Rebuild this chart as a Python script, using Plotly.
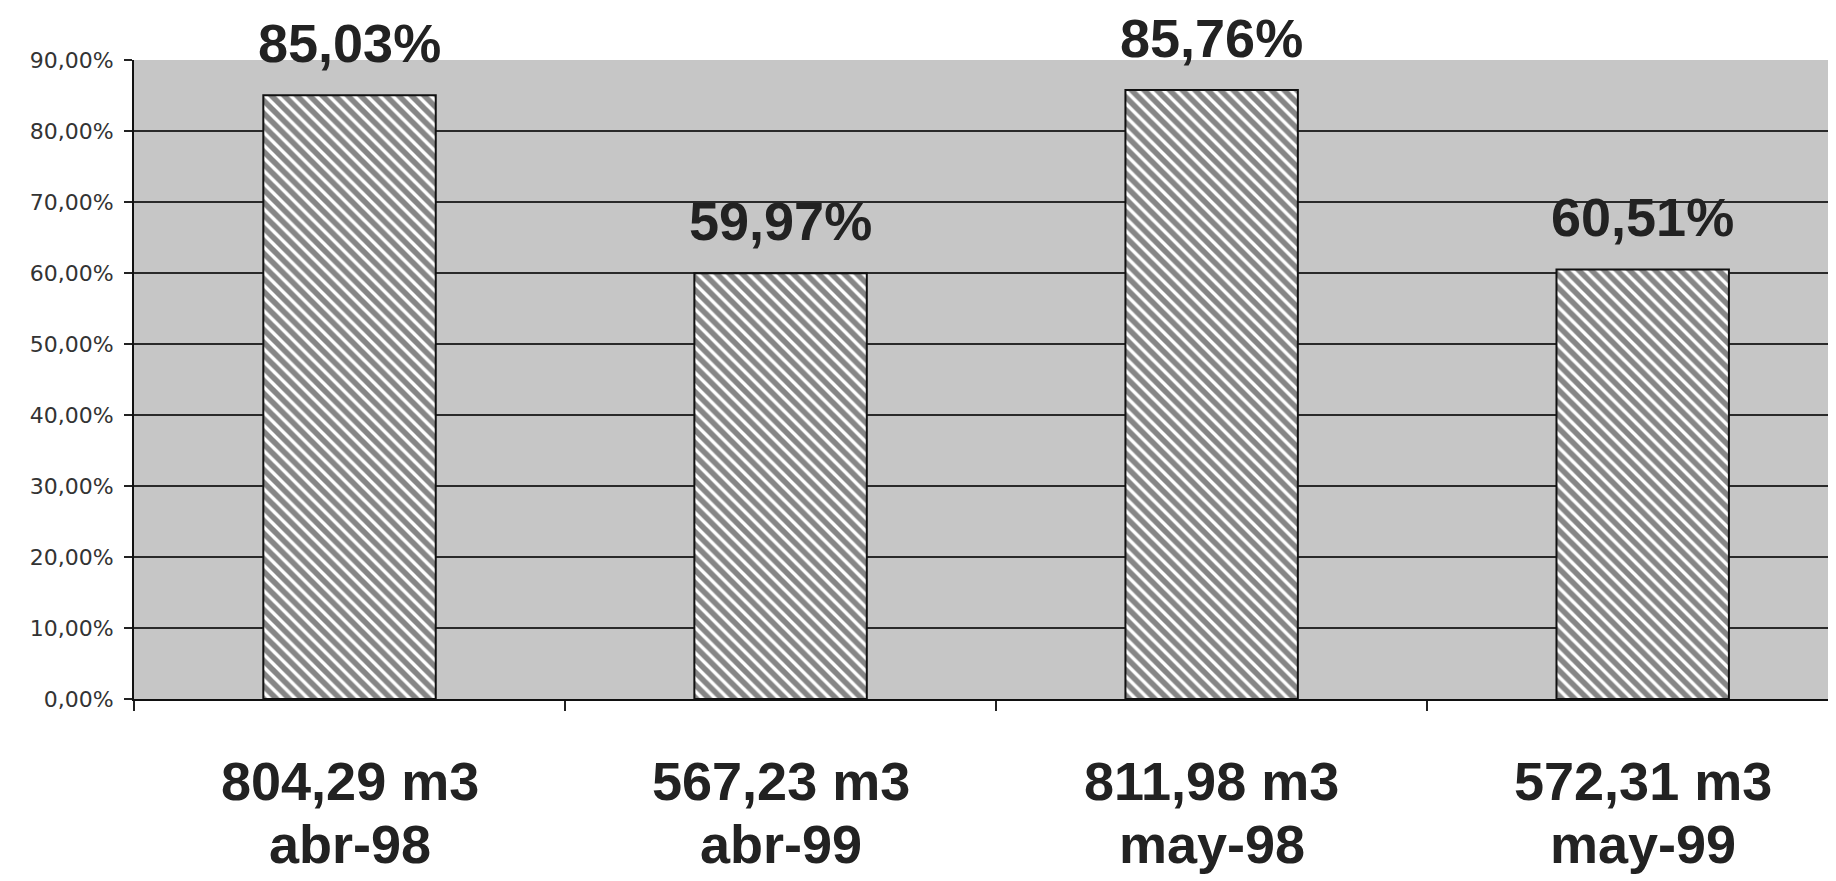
import plotly.graph_objects as go

# ---- data ----
volumes = ["804,29 m3", "567,23 m3", "811,98 m3", "572,31 m3"]
months = ["abr-98", "abr-99", "may-98", "may-99"]
values = [0.8503, 0.5997, 0.8576, 0.6051]
value_labels = ["85,03%", "59,97%", "85,76%", "60,51%"]
tick_vals = [0.0, 0.1, 0.2, 0.3, 0.4, 0.5, 0.6, 0.7, 0.8, 0.9]
tick_labels = ["0,00%", "10,00%", "20,00%", "30,00%", "40,00%",
               "50,00%", "60,00%", "70,00%", "80,00%", "90,00%"]

TXT = dict(family="Liberation Sans, Arial", size=54, color="#222222")

fig = go.Figure()
fig.add_trace(go.Bar(
    x=months,
    y=values,
    width=0.4,
    marker=dict(
        color="white",
        line=dict(color="#111111", width=2),
        pattern=dict(shape="\\", size=9, solidity=0.62,
                     fgcolor="#0d0d0d", bgcolor="white"),
    ),
    showlegend=False,
    hoverinfo="skip",
))

# grid lines (below bars), omitting the top boundary
shapes = []
for v in tick_vals[1:-1]:
    shapes.append(dict(type="line", xref="paper", yref="y", x0=0, x1=1,
                       y0=v, y1=v, layer="below",
                       line=dict(color="#2a2a2a", width=2)))

annotations = []
for m, v, lab in zip(months, values, value_labels):
    annotations.append(dict(x=m, y=v, xref="x", yref="y", text="<b>%s</b>" % lab,
                            showarrow=False, yanchor="bottom", yshift=20, font=TXT))
for m, vol in zip(months, volumes):
    annotations.append(dict(x=m, y=0, xref="x", yref="paper", text="<b>%s</b>" % vol,
                            showarrow=False, yanchor="top", yshift=-50, font=TXT))
    annotations.append(dict(x=m, y=0, xref="x", yref="paper", text="<b>%s</b>" % m,
                            showarrow=False, yanchor="top", yshift=-113, font=TXT))

fig.update_layout(
    width=1836, height=881,
    margin=dict(l=126, r=0, t=52, b=190, autoexpand=False),
    paper_bgcolor="white",
    plot_bgcolor="#c6c6c6",
    shapes=shapes,
    annotations=annotations,
    xaxis=dict(
        type="category",
        range=[-0.5, 3.467],
        showticklabels=False,
        tickson="boundaries", ticks="outside", ticklen=10, tickwidth=2,
        tickcolor="#222222",
        showline=True, linecolor="#111111", linewidth=2,
        showgrid=False, zeroline=False, fixedrange=True,
    ),
    yaxis=dict(
        range=[0, 0.9],
        tickmode="array", tickvals=tick_vals, ticktext=tick_labels,
        ticks="outside", ticklen=8, tickwidth=2, tickcolor="#222222",
        ticklabelstandoff=6,
        tickfont=dict(family="DejaVu Sans", size=22, color="#333333"),
        showline=True, linecolor="#111111", linewidth=2,
        showgrid=False, zeroline=False, fixedrange=True,
    ),
)

fig.write_html("out.html")
